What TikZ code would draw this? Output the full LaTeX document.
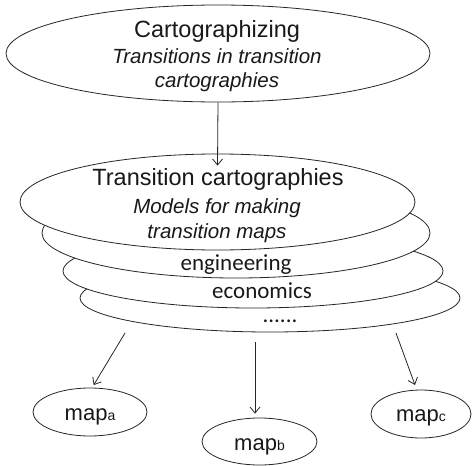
\documentclass[tikz,border=0pt]{standalone}
\usepackage{fontspec}
\setmainfont{Liberation Sans}
\newfontfamily\calfont{Carlito}
\usetikzlibrary{shapes.geometric,arrows.meta}
\begin{document}
\begin{tikzpicture}[x=1pt,y=-1pt,
  ell/.style={draw=black!85, line width=0.8pt, ellipse, fill=white, inner sep=0pt},
  lbl/.style={anchor=base, inner sep=0pt, text=black!90},
  titletxt/.style={lbl, font=\fontsize{23.5}{26}\selectfont},
  subtxt/.style={lbl, font=\fontsize{20.5}{24}\selectfont\itshape},
  caltxt/.style={lbl, font=\calfont\fontsize{23}{26}\selectfont},
  maptxt/.style={lbl, font=\fontsize{22}{26}\selectfont},
  arr/.style={draw=black!85, line width=0.8pt, -{Straight Barb[length=6pt,width=10pt]}}]
\useasboundingbox (0,0) rectangle (472,466);

% stacked ellipses (back to front)
\node[ell, minimum width=380pt, minimum height=68pt] (e4) at (270,298) {};
\node[ell, minimum width=380pt, minimum height=74pt] (e3) at (253,271) {};
\node[ell, minimum width=388pt, minimum height=90pt] (e2) at (236,233) {};
\node[ell, minimum width=395pt, minimum height=96pt] (e1) at (217.5,202) {};
\node[ell, minimum width=424pt, minimum height=97pt] (top) at (218,53.5) {};

% top texts
\node[titletxt] (t1) at (217,37) {Cartographizing};
\node[subtxt] (t2) at (217,63) {Transitions in transition};
\node[subtxt] (t3) at (217,87) {cartographies};

% transition cartographies texts
\node[titletxt] (c1) at (218,185) {Transition cartographies};
\node[subtxt] (c2) at (217,213) {Models for making};
\node[subtxt] (c3) at (217,238) {transition maps};

\node[caltxt] (eng) at (236,270) {engineering};
\node[caltxt] (eco) at (262,298) {economics};
\node[caltxt] (dots) at (280,322) {......};

\draw[arr] (top.south) -- ([yshift=-12pt]e1.north);

% map nodes
\node[ell, minimum width=114pt, minimum height=48pt] (ma) at (90,412) {};
\node[ell, minimum width=115pt, minimum height=47pt] (mb) at (259.5,441.5) {};
\node[ell, minimum width=100pt, minimum height=48pt] (mc) at (421,414) {};

\node[maptxt] (la) at (90,420) {map{\fontsize{14}{16}\selectfont a}};
\node[maptxt] (lb) at (259.5,450) {map{\fontsize{14}{16}\selectfont b}};
\node[maptxt] (lc) at (421,421) {map{\fontsize{14}{16}\selectfont c}};

\coordinate (a1) at (125,333);
\coordinate (b1) at (255,342);
\coordinate (c1s) at (396,333);
\draw[arr, shorten >=3pt] (a1) -- (ma.85);
\draw[arr, shorten >=4pt] (b1) -- (b1 |- mb.north);
\draw[arr, shorten >=5pt] (c1s) -- (mc.100);
\end{tikzpicture}
\end{document}
